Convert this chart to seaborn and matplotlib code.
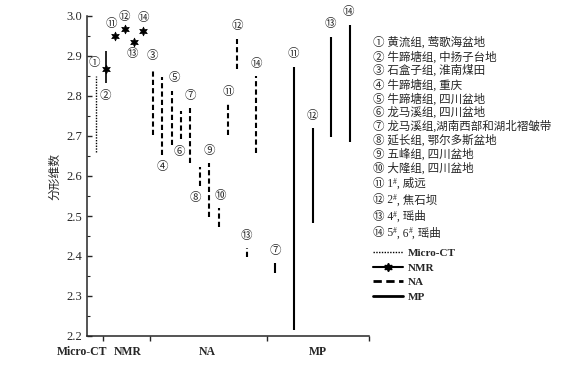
import matplotlib
matplotlib.use('Agg')
import matplotlib.pyplot as plt
from matplotlib.lines import Line2D
from matplotlib.ticker import MultipleLocator
from matplotlib.offsetbox import TextArea, HPacker, AnnotationBbox
import pandas as pd
import seaborn as sns

sns.set_style('ticks')
plt.rcParams['font.family'] = ['Liberation Serif', 'Noto Sans CJK SC', 'DejaVu Sans']

# 数据: 各方法测得的分形维数范围
method = ['Micro-CT'] + ['NMR'] * 5 + ['NA'] * 12 + ['MP'] * 5
sample = ['①', '②', '⑪', '⑫', '⑬', '⑭',
          '③', '④', '⑤', '⑥', '⑦', '⑧', '⑨', '⑩', '⑪', '⑫', '⑬', '⑭',
          '⑦', '⑪', '⑫', '⑬', '⑭']
xpos = [1, 2, 3, 4, 5, 6,
        7, 8, 9, 10, 11, 12, 13, 14, 15, 16, 17, 18,
        20, 22, 24, 26, 28]
low = [2.661, 2.832, 2.950, 2.967, 2.936, 2.963,
       2.703, 2.653, 2.678, 2.692, 2.632, 2.575, 2.498, 2.473, 2.703, 2.868, 2.397, 2.657,
       2.357, 2.215, 2.483, 2.698, 2.686]
high = [2.851, 2.913, 2.950, 2.967, 2.936, 2.963,
        2.868, 2.847, 2.813, 2.763, 2.769, 2.622, 2.632, 2.519, 2.780, 2.943, 2.419, 2.850,
        2.382, 2.873, 2.719, 2.948, 2.978]
# NMR 的星号点
nmr_mid = [2.868, 2.950, 2.967, 2.936, 2.963]

groups = ['Micro-CT', 'NMR', 'NA', 'MP']
group_edges = [1.7, 6.7, 19.15, 30]
group_centers = [-0.5, 4.35, 12.8, 24.6]

# 图例说明, '#' 处为上标
legend_text = [['① 黄流组, 莺歌海盆地'], ['② 牛蹄塘组, 中扬子台地'], ['③ 石盒子组, 淮南煤田'],
               ['④ 牛蹄塘组, 重庆'], ['⑤ 牛蹄塘组, 四川盆地'], ['⑥ 龙马溪组, 四川盆地'],
               ['⑦ 龙马溪组,湖南西部和湖北褶皱带'], ['⑧ 延长组, 鄂尔多斯盆地'],
               ['⑨ 五峰组, 四川盆地'], ['⑩ 大隆组, 四川盆地'],
               ['⑪ 1', '#', ', 威远'], ['⑫ 2', '#', ', 焦石坝'], ['⑬ 4', '#', ', 瑶曲'],
               ['⑭ 5', '#', ', 6', '#', ', 瑶曲']]

df = pd.DataFrame({'method': method, 'sample': sample, 'x': xpos, 'low': low, 'high': high})

# 标注位置(向上/向下)及微调
side = ['up', 'down', 'up', 'up', 'down', 'up',
        'up', 'down', 'up', 'down', 'up', 'down', 'up', 'up', 'up', 'up', 'up', 'up',
        'up', 'up', 'up', 'up', 'up']
label_dx = [-1.5, 0, -3, 0, -1, 0,
            0, 0, 2, -1, 0, -3, 0, 1, 0, 0, 0, 0,
            0, 0, 0, -1, -1]

styles = {
    'Micro-CT': dict(linestyles=[(0, (1, 1))], linewidth=1.0),
    'NMR': dict(linestyles='solid', linewidth=1.2),
    'NA': dict(linestyles=[(0, (2.5, 1.5))], linewidth=1.5),
    'MP': dict(linestyles='solid', linewidth=1.5),
}

fig = plt.figure(figsize=(5.63, 3.66), dpi=100)
ax = fig.add_axes([87 / 563, 30 / 366, 282 / 563, 320 / 366])

for m in groups:
    sub = df[df.method == m]
    ax.vlines(sub.x, sub.low, sub.high, colors='k', **styles[m])

nmr = df[df.method == 'NMR'].copy()
nmr['mid'] = nmr_mid
sns.scatterplot(data=nmr, x='x', y='mid', marker=(6, 1, 0), s=40, color='k',
                edgecolor='k', linewidth=0.5, ax=ax, legend=False, zorder=3)

for i, row in df.iterrows():
    up = side[i] == 'up'
    yv = row.high if up else row.low
    ax.annotate(row['sample'], xy=(row.x, yv), xytext=(label_dx[i], 9 if up else -9),
                textcoords='offset points', ha='center', va='center', fontsize=8.3,
                annotation_clip=False)

ax.set_xlim(0, 30)
ax.set_ylim(2.2, 3.0)
ax.set_xlabel('')
ax.set_ylabel('分形维数', fontsize=8.5)
ax.yaxis.set_label_coords(-0.09, 0.5)
ax.yaxis.set_major_locator(MultipleLocator(0.1))
ax.yaxis.set_minor_locator(MultipleLocator(0.05))
ax.set_xticks(group_edges)
ax.set_xticklabels([])
ax.tick_params(axis='y', which='major', direction='in', length=3.5, width=1, labelsize=9)
ax.tick_params(axis='y', which='minor', direction='in', length=2, width=0.8)
ax.tick_params(axis='x', which='major', direction='out', length=3.5, width=1)
for s in ['left', 'bottom']:
    ax.spines[s].set_linewidth(1.1)
sns.despine(ax=ax)

for g, c in zip(groups, group_centers):
    ax.text(c, -0.05, g, transform=ax.get_xaxis_transform(), ha='center', va='center',
            fontsize=8.5, fontweight='bold', clip_on=False)

# 图例文字
ys = [43 + 14 * i for i in range(10)] + [184 + 16.5 * i for i in range(4)]
for parts, yp in zip(legend_text, ys):
    boxes = [TextArea(p, textprops=dict(fontsize=5.5 if p == '#' else 8.3)) for p in parts]
    pack = HPacker(children=boxes, align='top', pad=0, sep=0)
    ab = AnnotationBbox(pack, (373 / 563, 1 - yp / 366), xycoords='figure fraction',
                        box_alignment=(0, 0.5), frameon=False, pad=0)
    fig.add_artist(ab)

handles = [
    Line2D([], [], color='k', ls=(0, (1, 1)), lw=1.0),
    Line2D([], [], color='k', ls='-', lw=1.5, marker=(6, 1, 0), ms=6),
    Line2D([], [], color='k', ls=(0, (3, 1.6)), lw=2.0),
    Line2D([], [], color='k', ls='-', lw=2.0),
]
fig.legend(handles, groups, loc='upper left', bbox_to_anchor=(373 / 563, 1 - 248 / 366),
           frameon=False, prop={'weight': 'bold', 'size': 8}, handlelength=2.7,
           handletextpad=0.4, labelspacing=0.45, borderaxespad=0, borderpad=0)

fig.savefig('out.png', dpi=100)
